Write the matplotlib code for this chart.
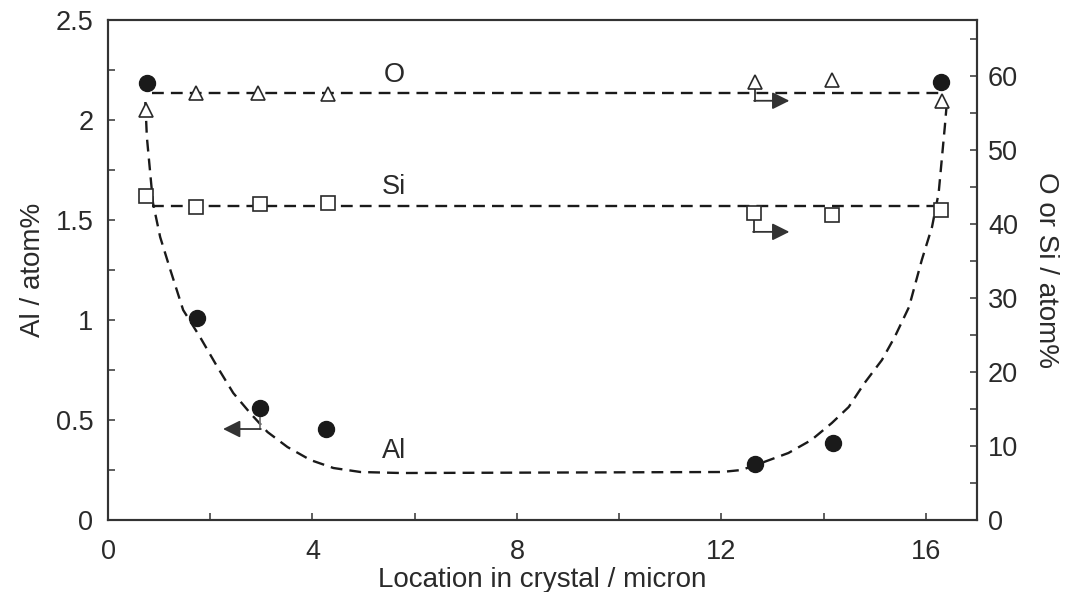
import matplotlib
matplotlib.use("Agg")
import matplotlib.pyplot as plt
from matplotlib.ticker import MultipleLocator

plt.rcParams['font.family'] = ['Liberation Sans', 'DejaVu Sans']

# ---- data ----
al_x = [0.76, 1.75, 2.98, 4.27, 12.65, 14.18, 16.29]
al_y = [2.185, 1.01, 0.56, 0.455, 0.28, 0.385, 2.19]

o_x = [0.75, 1.72, 2.93, 4.30, 12.65, 14.16, 16.32]
o_y = [55.35, 57.65, 57.65, 57.5, 59.1, 59.4, 56.6]

si_x = [0.74, 1.72, 2.97, 4.30, 12.63, 14.16, 16.30]
si_y = [43.75, 42.25, 42.66, 42.8, 41.45, 41.2, 41.85]

# dashed fit curve for Al
al_fit_x = [0.73, 0.76, 0.82, 0.88, 1.02, 1.22, 1.47, 1.80, 2.14, 2.45, 2.78,
            3.12, 3.51, 3.96, 4.41, 4.94, 5.73, 12.0, 12.39, 12.78, 13.31,
            13.76, 14.16, 14.49, 14.80, 15.14, 15.39, 15.67, 15.92, 16.12,
            16.25, 16.31, 16.37, 16.41]
al_fit_y = [2.09, 1.915, 1.75, 1.585, 1.415, 1.25, 1.05, 0.915, 0.765, 0.635,
            0.535, 0.44, 0.365, 0.30, 0.26, 0.24, 0.235, 0.24, 0.25, 0.285,
            0.335, 0.40, 0.485, 0.565, 0.685, 0.80, 0.915, 1.065, 1.30, 1.465,
            1.635, 1.80, 1.965, 2.085]

o_fit_x = [0.86, 16.37]
o_fit_y = [57.65, 57.65]
si_fit_x = [0.86, 16.30]
si_fit_y = [42.4, 42.4]

x_ticks = [0, 4, 8, 12, 16]
left_ticks = [0, 0.5, 1, 1.5, 2, 2.5]
left_tick_labels = ['0', '0.5', '1', '1.5', '2', '2.5']
right_ticks = [0, 10, 20, 30, 40, 50, 60]

# ---- figure ----
TXT = '#2a2a2a'
FS = 19.5
fig = plt.figure(figsize=(10.78, 5.92), dpi=100)
ax = fig.add_axes([0.1002, 0.1216, 0.8061, 0.8446])
ax2 = ax.twinx()

ax.set_xlim(0, 17)
ax.set_ylim(0, 2.5)
ax2.set_ylim(0, 67.5)

dash = (0, (5, 3))
ax.plot(al_fit_x, al_fit_y, color='#1a1a1a', lw=1.7, ls=dash, zorder=2)
ax2.plot(o_fit_x, o_fit_y, color='#1a1a1a', lw=1.7, ls=dash, zorder=2)
ax2.plot(si_fit_x, si_fit_y, color='#1a1a1a', lw=1.7, ls=dash, zorder=2)

ax.plot(al_x, al_y, 'o', color='#1a1a1a', ms=11.5, zorder=3)
ax2.plot(o_x, o_y, '^', mfc='white', mec='#2a2a2a', mew=1.2, ms=9.5, zorder=3)
ax2.plot(si_x, si_y, 's', mfc='white', mec='#2a2a2a', mew=1.2, ms=9.5, zorder=3)

# bracket arrows indicating axis
acol = '#333333'
ax.plot([2.98, 2.98], [0.52, 0.455], color='#777777', lw=1.3, zorder=2)
ax.annotate('', xy=(2.25, 0.455), xytext=(2.99, 0.455),
            arrowprops=dict(arrowstyle='-|>', color=acol, lw=1.3,
                            mutation_scale=26, shrinkA=0, shrinkB=0))
ax2.plot([12.65, 12.65], [58.3, 56.6], color=acol, lw=1.3, zorder=2)
ax2.annotate('', xy=(13.33, 56.6), xytext=(12.64, 56.6),
             arrowprops=dict(arrowstyle='-|>', color=acol, lw=1.3,
                             mutation_scale=26, shrinkA=0, shrinkB=0))
ax2.plot([12.63, 12.63], [40.5, 38.9], color=acol, lw=1.3, zorder=2)
ax2.annotate('', xy=(13.33, 38.9), xytext=(12.62, 38.9),
             arrowprops=dict(arrowstyle='-|>', color=acol, lw=1.3,
                             mutation_scale=26, shrinkA=0, shrinkB=0))

# series labels
ax.text(5.59, 2.225, 'O', fontsize=FS, color=TXT, ha='center', va='center')
ax.text(5.59, 1.665, 'Si', fontsize=FS, color=TXT, ha='center', va='center')
ax.text(5.59, 0.345, 'Al', fontsize=FS, color=TXT, ha='center', va='center')

# ticks
ax.set_xticks(x_ticks)
ax.xaxis.set_minor_locator(MultipleLocator(2))
ax.set_yticks(left_ticks)
ax.set_yticklabels(left_tick_labels)
ax.yaxis.set_minor_locator(MultipleLocator(0.25))
ax2.set_yticks(right_ticks)
ax2.yaxis.set_minor_locator(MultipleLocator(5))

for a in (ax, ax2):
    a.tick_params(which='both', direction='in', length=5, width=1.1,
                  labelsize=FS, labelcolor=TXT, color='#333333')
    for s in a.spines.values():
        s.set_linewidth(1.5)
        s.set_color('#333333')
ax.tick_params(axis='x', pad=14)
ax.tick_params(axis='y', pad=10.5)
ax2.tick_params(axis='y', pad=8)

ax.set_xlabel('Location in crystal / micron', fontsize=20, color=TXT, labelpad=1)
ax.set_ylabel('Al / atom%', fontsize=20, color=TXT, labelpad=7)
ax2.set_ylabel('O or Si / atom%', fontsize=20, color=TXT, rotation=270,
               labelpad=29)

fig.savefig('out.png', dpi=100)
